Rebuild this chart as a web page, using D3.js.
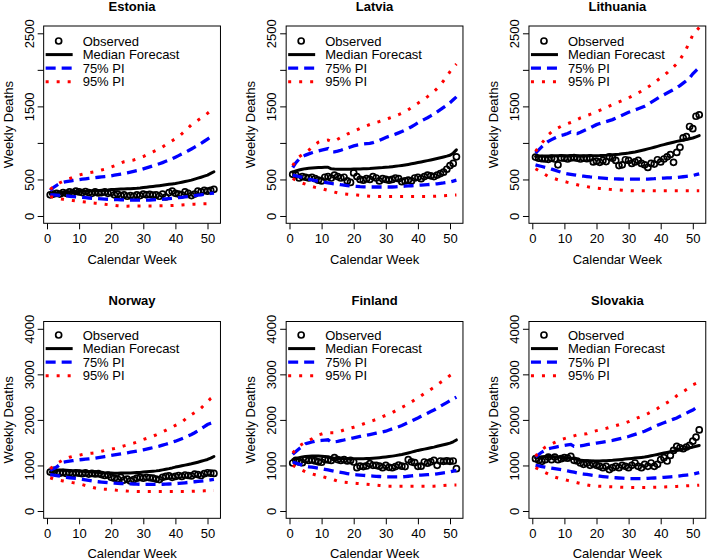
<!DOCTYPE html>
<html>
<head>
<meta charset="utf-8">
<script src="https://cdn.jsdelivr.net/npm/d3@7"></script>
<style>
  body { margin: 0; background: #fff; }
  text { font-family: "Liberation Sans", Arial, Helvetica, sans-serif; fill: #000; }
</style>
</head>
<body>
<div id="plot"></div>
<script>
// weekly deaths: observed vs forecast with prediction intervals

const countries = ["Estonia", "Latvia", "Lithuania", "Norway", "Finland", "Slovakia"];
const weeks = [1,2,3,4,5,6,7,8,9,10,11,12,13,14,15,16,17,18,19,20,21,22,23,24,25,26,
  27,28,29,30,31,32,33,34,35,36,37,38,39,40,41,42,43,44,45,46,47,48,49,50,51,52];
const xTicks = [0, 10, 20, 30, 40, 50];
const yTicksTop = [0, 500, 1000, 1500, 2000, 2500];
const yLabelsTop = ["0", "500", "", "1500", "", "2500"];
const yTicksBottom = [0, 1000, 2000, 3000, 4000];
const yLabelsBottom = ["0", "1000", "2000", "3000", "4000"];
const legendLabels = ["Observed", "Median Forecast", "75% PI", "95% PI"];

// Estonia
const estoniaObs = [290,300,310,300,320,310,330,320,340,330,320,335,320,310,330,315,320,330,310,320,
  290,300,280,290,270,280,270,290,280,300,290,295,285,290,270,300,260,320,340,310,
  300,290,330,310,280,300,340,330,350,340,350,365];
const estoniaMed = [300,305,310,315,320,323,326,329,332,335,337,339,341,343,345,347,350,353,357,362,
  364,366,368,370,372,374,377,380,384,389,394,399,404,409,415,421,427,433,439,445,
  453,462,471,481,491,505,518,531,545,560,582,605];
const estoniaHi75 = [350,390,420,445,460,470,478,485,491,497,503,509,515,520,525,530,535,540,545,550,
  558,566,574,582,590,600,610,620,632,645,658,672,686,700,715,731,748,766,785,805,
  826,848,870,893,917,942,968,995,1023,1052,1080,1110];
const estoniaLo75 = [290,288,285,282,278,274,270,266,262,258,254,250,246,243,240,237,234,231,229,227,
  225,223,221,220,219,218,217,217,217,217,218,219,221,223,226,229,233,237,241,246,
  251,256,261,266,272,278,284,290,296,302,308,314];
const estoniaHi95 = [365,400,430,455,475,495,510,530,548,560,572,582,590,598,606,618,630,641,656,671,
  687,705,724,742,750,759,767,782,798,814,836,858,878,898,920,945,975,1003,1030,1058,
  1088,1125,1165,1205,1250,1280,1310,1340,1370,1405,1440,1475];
const estoniaLo95 = [265,255,245,236,229,222,216,211,206,202,196,190,184,179,175,171,167,161,155,150,
  145,140,137,135,135,136,137,138,138,138,138,138,138,138,139,139,140,141,143,145,
  148,151,154,157,160,162,164,166,167,168,170,172];

// Latvia
const latviaObs = [570,560,520,540,530,520,530,510,490,480,530,540,520,560,540,520,530,480,460,590,
  540,500,490,510,500,540,520,480,510,500,490,500,520,510,470,480,490,480,520,530,
  510,540,560,550,540,560,580,600,640,690,720,810];
const latviaMed = [600,618,630,640,648,654,658,661,663,665,666,667,645,642,641,640,640,640,641,642,
  643,644,646,648,650,653,656,659,662,666,670,675,680,686,692,699,706,714,722,731,
  740,749,758,767,777,787,797,808,819,832,860,905];
const latviaHi75 = [664,730,780,810,833,850,865,878,890,902,912,922,880,878,888,900,915,930,945,960,
  970,978,985,990,995,1005,1020,1035,1055,1075,1090,1105,1120,1137,1155,1175,1198,1222,1248,1275,
  1300,1322,1345,1370,1395,1425,1455,1485,1515,1550,1590,1630];
const latviaLo75 = [558,548,538,528,515,505,495,485,476,467,460,452,445,440,435,428,422,416,411,407,
  404,401,399,398,397,397,397,397,397,397,397,397,399,402,405,408,411,414,417,420,
  423,426,429,432,436,441,447,453,460,467,478,490];
const latviaHi95 = [690,760,810,840,865,900,940,980,1010,1025,1035,1040,1020,1025,1050,1075,1100,1122,1140,1160,
  1180,1200,1218,1235,1252,1268,1280,1293,1308,1323,1338,1353,1370,1388,1406,1430,1455,1485,1515,1543,
  1572,1602,1634,1668,1703,1745,1795,1850,1910,1975,2030,2080];
const latviaLo95 = [513,488,467,450,435,420,405,392,383,375,362,350,338,327,316,310,304,299,295,292,
  288,284,280,275,271,269,268,268,268,268,267,267,267,267,267,267,267,268,268,268,
  268,268,268,269,270,272,275,278,281,284,286,288];

// Lithuania
const lithuaniaObs = [806,790,785,780,775,790,780,700,795,790,780,795,800,790,780,790,785,795,740,750,
  735,760,745,810,790,760,690,700,770,760,720,740,760,720,700,665,720,710,770,740,
  780,810,840,735,870,940,1070,1085,1225,1195,1365,1385];
const lithuaniaMed = [815,818,820,821,822,823,823,824,824,824,824,824,825,825,825,825,825,826,826,826,
  827,829,831,834,838,842,846,851,856,861,869,877,886,896,907,918,929,941,953,966,
  977,988,999,1010,1021,1030,1039,1048,1057,1067,1083,1100];
const lithuaniaHi75 = [861,905,950,990,1021,1045,1068,1088,1103,1113,1130,1150,1130,1128,1145,1165,1185,1205,1228,1250,
  1265,1278,1292,1305,1319,1340,1360,1380,1400,1419,1435,1452,1468,1485,1502,1528,1555,1582,1610,1639,
  1660,1683,1706,1730,1754,1785,1818,1852,1890,1946,1990,2030];
const lithuaniaLo75 = [700,688,677,666,655,641,627,613,599,586,578,570,563,556,549,545,540,535,531,527,
  523,519,515,511,508,507,506,505,504,504,504,504,504,504,504,504,507,510,514,517,
  519,521,523,525,527,532,537,542,548,554,565,577];
const lithuaniaHi95 = [884,940,998,1055,1113,1150,1181,1205,1228,1250,1265,1280,1296,1320,1342,1358,1375,1391,1408,1424,
  1444,1464,1485,1505,1525,1543,1561,1580,1598,1616,1640,1663,1685,1708,1731,1762,1793,1825,1858,1891,
  1925,1960,2000,2040,2083,2140,2210,2290,2380,2477,2530,2580];
const lithuaniaLo95 = [646,620,595,567,540,525,510,496,484,472,460,449,438,427,417,410,402,394,387,380,
  376,373,369,365,362,359,356,353,350,348,346,345,345,345,345,345,345,345,345,345,
  345,345,345,345,345,345,345,345,345,345,345,345];

// Norway
const norwayObs = [855,890,840,830,845,825,835,820,840,830,820,835,810,825,815,820,800,780,790,740,
  720,700,740,680,700,660,690,720,740,720,740,730,720,700,690,740,760,770,740,760,
  780,760,790,780,770,810,800,780,820,840,830,825];
const norwayMed = [854,880,900,902,900,895,890,885,880,876,872,868,862,856,850,845,840,836,833,832,
  831,831,832,833,834,836,839,843,848,854,860,866,873,881,891,903,916,930,946,964,
  978,992,1007,1022,1037,1054,1072,1091,1111,1132,1160,1197];
const norwayHi75 = [891,930,964,1020,1073,1085,1095,1105,1115,1124,1131,1138,1145,1153,1161,1172,1184,1196,1208,1219,
  1231,1243,1255,1266,1278,1291,1304,1317,1330,1343,1359,1375,1391,1407,1424,1445,1466,1488,1510,1533,
  1560,1588,1617,1647,1679,1718,1760,1805,1850,1898,1925,1950];
const norwayLo75 = [796,786,776,765,745,738,730,722,715,708,697,685,673,661,650,642,635,627,620,613,
  610,607,604,601,599,596,593,590,587,584,584,584,584,584,584,587,590,593,596,599,
  606,613,620,628,635,642,650,657,665,672,683,694];
const norwayHi95 = [927,985,1040,1080,1120,1155,1180,1200,1215,1225,1240,1255,1262,1270,1278,1295,1312,1329,1343,1357,
  1372,1390,1410,1431,1450,1470,1489,1515,1545,1570,1593,1618,1643,1673,1705,1737,1772,1808,1840,1880,
  1915,1950,2010,2077,2115,2160,2200,2260,2330,2400,2470,2520];
const norwayLo95 = [730,705,685,672,660,647,635,623,611,599,580,560,540,522,505,489,484,479,475,468,
  460,453,448,443,438,435,433,431,431,431,431,431,431,431,431,431,431,431,431,431,
  431,431,431,431,431,434,437,440,443,445,447,449];

// Finland
const finlandObs = [1054,1112,1076,1060,1127,1110,1120,1100,1080,1070,1130,1120,1110,1170,1130,1110,1130,1100,1110,1076,
  952,985,975,990,1040,1003,1000,985,952,1000,960,950,975,1010,985,975,1127,1080,1060,981,
  985,1076,1050,1080,1112,1003,1098,1090,1100,1090,1098,930];
const finlandMed = [1127,1150,1170,1185,1198,1203,1206,1207,1205,1200,1195,1190,1170,1160,1155,1150,1148,1147,1146,1146,
  1146,1147,1148,1150,1152,1157,1163,1170,1178,1186,1195,1205,1216,1228,1242,1258,1275,1293,1311,1330,
  1344,1358,1373,1388,1403,1420,1437,1454,1472,1490,1520,1560];
const finlandHi75 = [1243,1305,1367,1420,1476,1495,1515,1534,1542,1549,1556,1563,1512,1520,1527,1543,1559,1575,1591,1607,
  1621,1636,1650,1665,1679,1694,1708,1723,1737,1752,1777,1802,1826,1851,1876,1909,1943,1976,2010,2043,
  2078,2113,2148,2182,2217,2258,2299,2340,2380,2421,2460,2500];
const finlandLo75 = [1076,1052,1028,1005,981,971,961,950,940,930,915,901,887,872,858,846,835,823,812,800,
  794,788,783,777,771,767,762,758,753,749,749,749,749,749,749,756,763,770,778,785,
  789,794,798,803,807,817,827,838,848,858,876,894];
const finlandHi95 = [1272,1350,1425,1470,1510,1550,1585,1640,1670,1690,1712,1716,1716,1716,1735,1755,1780,1800,1820,1838,
  1860,1885,1910,1935,1960,1985,2010,2040,2072,2100,2130,2159,2200,2240,2275,2310,2355,2395,2440,2480,
  2530,2580,2620,2670,2715,2770,2820,2866,2920,2975,3020,3060];
const finlandLo95 = [1003,965,930,895,860,835,815,795,775,760,740,720,705,680,655,640,632,625,618,612,
  605,600,595,588,582,576,569,562,556,550,546,545,545,545,545,545,545,545,545,545,
  545,545,545,545,545,550,555,560,565,567,569,570];

// Slovakia
const slovakiaObs = [1149,1112,1090,1127,1185,1127,1185,1127,1149,1170,1160,1200,1112,1098,1054,1025,1054,1003,1040,1003,
  981,952,981,909,952,981,952,1003,981,952,1003,1054,981,952,1025,981,1054,981,1025,1127,
  1170,1098,1221,1330,1418,1389,1367,1403,1439,1534,1621,1781];
const slovakiaMed = [1170,1180,1190,1196,1200,1196,1190,1184,1177,1170,1165,1160,1149,1130,1112,1108,1104,1101,1099,1098,
  1100,1102,1105,1108,1112,1118,1125,1132,1140,1149,1155,1162,1169,1177,1185,1198,1212,1227,1242,1258,
  1272,1286,1300,1315,1330,1344,1358,1372,1387,1403,1420,1439];
const slovakiaHi75 = [1185,1240,1294,1330,1367,1383,1398,1413,1427,1439,1450,1461,1418,1425,1432,1443,1455,1467,1479,1490,
  1502,1514,1526,1538,1549,1566,1584,1601,1619,1636,1659,1682,1706,1729,1752,1784,1816,1848,1880,1912,
  1938,1964,1990,2017,2043,2078,2113,2148,2182,2217,2265,2312];
const slovakiaLo75 = [1003,990,977,965,952,940,929,917,906,894,880,865,851,836,822,812,802,791,781,771,
  764,756,749,741,734,730,725,721,716,712,712,712,712,712,712,716,721,725,730,734,
  740,746,751,757,763,772,781,789,798,807,825,843];
const slovakiaHi95 = [1200,1290,1350,1400,1440,1470,1505,1540,1570,1590,1610,1630,1650,1670,1682,1688,1694,1720,1745,1765,
  1780,1797,1813,1835,1855,1875,1895,1915,1934,1960,1990,2020,2050,2080,2108,2140,2175,2210,2250,2300,
  2340,2380,2421,2470,2530,2575,2620,2665,2710,2770,2800,2830];
const slovakiaLo95 = [952,915,880,845,810,770,745,725,705,690,672,655,640,622,605,590,575,560,550,545,
  542,540,538,535,532,528,525,522,520,518,517,516,516,516,516,517,518,520,522,524,
  527,530,533,536,540,544,548,552,556,560,564,568];

const panels = [
  {obs: estoniaObs, med: estoniaMed, hi75: estoniaHi75, lo75: estoniaLo75, hi95: estoniaHi95, lo95: estoniaLo95},
  {obs: latviaObs, med: latviaMed, hi75: latviaHi75, lo75: latviaLo75, hi95: latviaHi95, lo95: latviaLo95},
  {obs: lithuaniaObs, med: lithuaniaMed, hi75: lithuaniaHi75, lo75: lithuaniaLo75, hi95: lithuaniaHi95, lo95: lithuaniaLo95},
  {obs: norwayObs, med: norwayMed, hi75: norwayHi75, lo75: norwayLo75, hi95: norwayHi95, lo95: norwayLo95},
  {obs: finlandObs, med: finlandMed, hi75: finlandHi75, lo75: finlandLo75, hi95: finlandHi95, lo95: finlandLo95},
  {obs: slovakiaObs, med: slovakiaMed, hi75: slovakiaHi75, lo75: slovakiaLo75, hi95: slovakiaHi95, lo95: slovakiaLo95}
];

// layout (pixels)
const W = 707, H = 559;
const week0X = [47, 289.5, 532.3];   // x position of week 0 in each column
const pxPerWeek = 3.21;
const rows = [
  {yDomain: [-100, 2600], yRange: [223.3, 26], ticks: yTicksTop, labels: yLabelsTop,
   titleY: 10.5, xLabY: 263.5, legY: 41},
  {yDomain: [-160, 4160], yRange: [518.3, 321.5], ticks: yTicksBottom, labels: yLabelsBottom,
   titleY: 304.5, xLabY: 557.5, legY: 335}
];

const svg = d3.select("#plot").append("svg")
  .attr("width", W).attr("height", H);
svg.append("rect").attr("width", W).attr("height", H).attr("fill", "#fff");

panels.forEach(function(p, i) {
  var col = i % 3, row = rows[Math.floor(i / 3)];
  var x0 = week0X[col] - 1.04 * pxPerWeek, x1 = week0X[col] + 54.04 * pxPerWeek;
  var x = d3.scaleLinear().domain([-1.04, 54.04]).range([x0, x1]);
  var y = d3.scaleLinear().domain(row.yDomain).range(row.yRange);
  var top = row.yRange[1], bot = row.yRange[0];

  var g = svg.append("g");

  g.append("clipPath").attr("id", "clip" + i)
    .append("rect").attr("x", x0).attr("y", top).attr("width", x1 - x0).attr("height", bot - top);

  // x axis
  var xa = g.append("g")
    .attr("transform", "translate(0," + bot + ")")
    .call(d3.axisBottom(x).tickValues(xTicks).tickSize(6).tickPadding(4).tickSizeOuter(0));
  xa.select(".domain").remove();
  xa.selectAll("text").style("font-size", "13px").style("font-family", "Liberation Sans, Arial, sans-serif");
  xa.selectAll("line").attr("stroke", "#000");

  // y axis with vertical labels
  var ya = g.append("g")
    .attr("transform", "translate(" + x0 + ",0)")
    .call(d3.axisLeft(y).tickValues(row.ticks).tickSize(6).tickSizeOuter(0)
      .tickFormat(function(d, k) { return row.labels[k]; }));
  ya.select(".domain").remove();
  ya.selectAll("line").attr("stroke", "#000");
  ya.selectAll("text")
    .attr("x", 0).attr("dy", 0)
    .attr("text-anchor", "middle")
    .attr("transform", "translate(-10,0) rotate(-90)")
    .style("font-size", "13px").style("font-family", "Liberation Sans, Arial, sans-serif");

  // box
  g.append("rect")
    .attr("x", x0).attr("y", top).attr("width", x1 - x0).attr("height", bot - top)
    .attr("fill", "none").attr("stroke", "#000").attr("stroke-width", 1);

  // titles
  g.append("text").attr("x", (x0 + x1) / 2).attr("y", row.titleY)
    .attr("text-anchor", "middle").style("font-size", "13px").style("font-weight", "bold")
    .text(countries[i]);
  g.append("text").attr("x", (x0 + x1) / 2).attr("y", row.xLabY)
    .attr("text-anchor", "middle").style("font-size", "13px")
    .text("Calendar Week");
  g.append("text")
    .attr("transform", "translate(" + (x0 - 31) + "," + ((top + bot) / 2) + ") rotate(-90)")
    .attr("text-anchor", "middle").style("font-size", "13px")
    .text("Weekly Deaths");

  var plot = g.append("g").attr("clip-path", "url(#clip" + i + ")");

  // observed points
  plot.selectAll("circle.obs")
    .data(p.obs)
    .enter().append("circle")
      .attr("class", "obs")
      .attr("cx", function(d, k) { return x(weeks[k]); })
      .attr("cy", function(d) { return y(d); })
      .attr("r", 3)
      .attr("fill", "none")
      .attr("stroke", "#000")
      .attr("stroke-width", 1.7);

  var line = d3.line()
    .x(function(d, k) { return x(weeks[k]); })
    .y(function(d) { return y(d); });

  plot.append("path").datum(p.med).attr("d", line)
    .attr("fill", "none").attr("stroke", "#000").attr("stroke-width", 3)
    .attr("stroke-linejoin", "round").attr("stroke-linecap", "round");
  [p.hi75, p.lo75].forEach(function(s) {
    plot.append("path").datum(s).attr("d", line)
      .attr("fill", "none").attr("stroke", "#0000ff").attr("stroke-width", 3.3)
      .attr("stroke-dasharray", "10,6");
  });
  [p.hi95, p.lo95].forEach(function(s) {
    plot.append("path").datum(s).attr("d", line)
      .attr("fill", "none").attr("stroke", "#ff0000").attr("stroke-width", 3)
      .attr("stroke-dasharray", "3,8");
  });

  // legend
  var leg = g.append("g");
  legendLabels.forEach(function(lab, k) {
    var ly = row.legY + k * 13.6;
    if (k === 0) {
      leg.append("circle").attr("cx", x0 + 15).attr("cy", ly).attr("r", 3)
        .attr("fill", "none").attr("stroke", "#000").attr("stroke-width", 1.7);
    } else {
      var st = [null, {c: "#000", w: 3, d: null}, {c: "#0000ff", w: 3.3, d: "10,6"}, {c: "#ff0000", w: 3, d: "3,8"}][k];
      leg.append("line")
        .attr("x1", x0 + 2).attr("x2", x0 + 29).attr("y1", ly).attr("y2", ly)
        .attr("stroke", st.c).attr("stroke-width", st.w)
        .attr("stroke-dasharray", st.d);
    }
    leg.append("text").attr("x", x0 + 39).attr("y", ly).attr("dy", "0.35em")
      .style("font-size", "13px").text(lab);
  });
});
</script>
</body>
</html>
